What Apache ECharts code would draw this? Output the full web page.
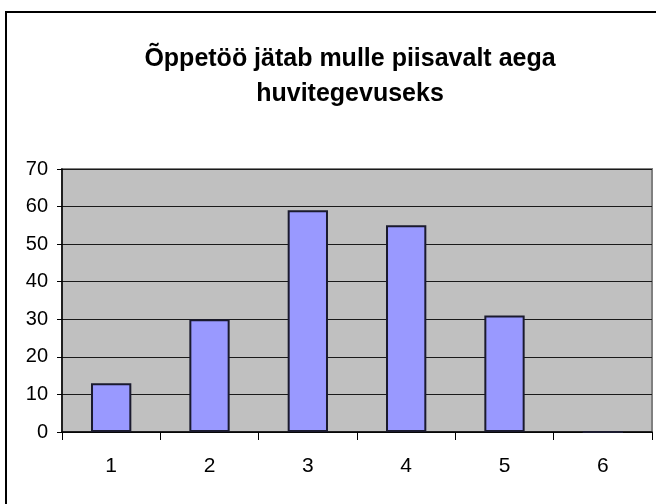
<!DOCTYPE html>
<html>
<head>
<meta charset="utf-8">
<script src="https://cdn.jsdelivr.net/npm/echarts@6/dist/echarts.min.js"></script>
<style>
html, body { margin: 0; padding: 0; background: #fff; }
#chart { width: 656px; height: 504px; }
</style>
</head>
<body>
<div id="chart"></div>
<script>
var titleText = "Õppetöö jätab mulle piisavalt aega\nhuvitegevuseks";
var categories = ["1", "2", "3", "4", "5", "6"];
var values = [13, 30, 59, 55, 31, 0];
var yTicks = [0, 10, 20, 30, 40, 50, 60, 70];

var myChart = echarts.init(document.getElementById("chart"));
var options = {
	backgroundColor: "#ffffff",
	animation: false,
	//外框
	graphic: [{
		type: "rect",
		shape: { x: 6, y: 12, width: 700, height: 600 },
		style: { fill: "none", stroke: "#000", lineWidth: 2 },
		silent: true
	}],
	title: {
		text: titleText,
		left: 345,
		textAlign: "center",
		top: 37,
		textStyle: {
			fontFamily: "Liberation Sans",
			fontSize: 25,
			fontWeight: "bold",
			color: "#000",
			lineHeight: 35
		}
	},
	grid: {
		left: 62,
		top: 169,
		right: 4,
		bottom: 72,
		show: true,
		backgroundColor: "#C0C0C0",
		borderColor: "#808080",
		borderWidth: 2
	},
	xAxis: {
		type: "category",
		data: categories,
		axisLine: { lineStyle: { color: "#000", width: 1.5 } },
		axisTick: { show: true, length: 8, lineStyle: { color: "#000" } },
		axisLabel: {
			margin: 24,
			fontFamily: "Liberation Sans",
			fontSize: 21,
			color: "#000"
		}
	},
	yAxis: {
		type: "value",
		min: yTicks[0],
		max: yTicks[yTicks.length - 1],
		interval: 10,
		axisLine: { show: true, lineStyle: { color: "#000", width: 1.5 } },
		axisTick: { show: true, length: 5, lineStyle: { color: "#000" } },
		splitLine: { show: true, lineStyle: { color: "#1a1a1a", width: 1 } },
		axisLabel: {
			margin: 14,
			fontFamily: "Liberation Sans",
			fontSize: 20,
			color: "#000"
		}
	},
	series: [{
		name: "vastused",
		type: "bar",
		data: values,
		barWidth: "41%",
		itemStyle: {
			color: "#9999FF",
			borderColor: "#1a1a2e",
			borderWidth: 2
		}
	}]
};
myChart.setOption(options);
</script>
</body>
</html>
